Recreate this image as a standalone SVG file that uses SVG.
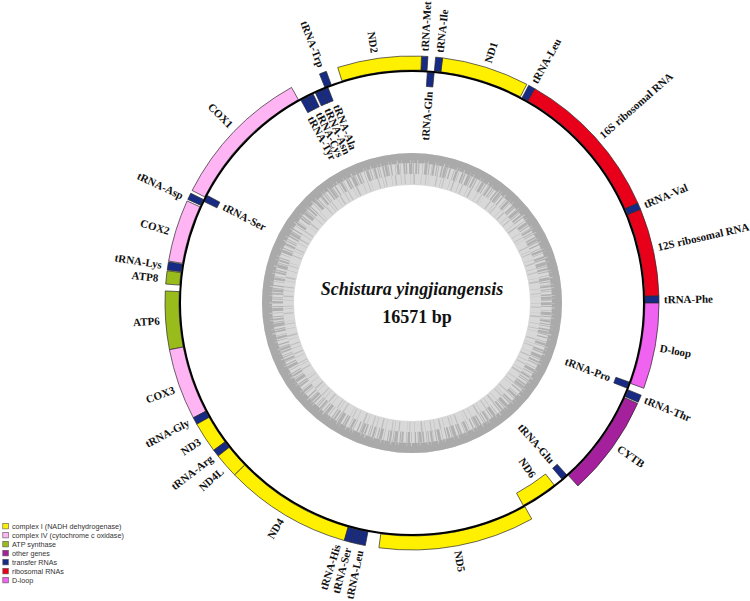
<svg xmlns="http://www.w3.org/2000/svg" width="750" height="601" viewBox="0 0 750 601">
<style>
.g{stroke:#2a2a2a;stroke-width:0.7}
.c1{fill:#fff000}.c4{fill:#ffb4f4}.atp{fill:#9abb1c}.oth{fill:#a4209c}.trna{fill:#172a84}.rrna{fill:#e8001a}.dl{fill:#f062f0}
.lb{font-family:"Liberation Serif","Times New Roman",serif;font-weight:bold;font-size:11px;fill:#111}
.ls{text-anchor:start}.le{text-anchor:end}
.lg{font-family:"Liberation Sans",Arial,sans-serif;font-size:7.2px;fill:#333}
.sq{stroke:#555;stroke-width:0.6}
</style>
<rect width="750" height="601" fill="#fff"/>
<g id="gc-ring" fill="none">
<circle cx="412" cy="303" r="134" stroke="#d8d8d8" stroke-width="32"/>
<circle cx="412" cy="303" r="145" stroke="#aaaaaa" stroke-width="10"/>
<circle cx="412" cy="303" r="134.5" stroke="#b0b0b0" stroke-width="11" stroke-dasharray="2 1 1 3 0.5 1.5 3 1 1 2 0.5 0.5 2 1.5 1 1 0.7 2.2 1.6 0.8 2.6 0.4 0.9 1.7 1.3 3.1 0.6 1.1 2.4 0.9 0.5 2.8 1.8 0.6 1.2 1.9 3.4 0.7 0.8 1.4"/>
<circle cx="412" cy="303" r="124" stroke="#bdbdbd" stroke-width="10" stroke-dasharray="0.6 3 1 5 0.4 2.5 1.5 6 0.5 4 0.8 2.2 0.3 7 1.1 3.6 0.5 1.9 0.9 5.5 0.4 2.9 1.3 4.4"/>
<circle cx="412" cy="303" r="141" stroke="#c9c9c9" stroke-width="4" stroke-dasharray="0.5 4 1 6 0.4 3 0.8 7 0.6 2.5 0.3 5.2 1.2 3.7 0.5 8 0.7 2.1"/>
</g>
<g id="genes">
<g id="trnF"><path class="g trna" d="M659,303 A247,247 0 0 0 658.89,295.67 L644.90,296.09 A233,233 0 0 1 645,303 Z"/><text class="lb ls" transform="translate(663.98,299.48) rotate(-0.8)" dy="0.35em">tRNA-Phe</text></g>
<g id="rrnS"><path class="g rrna" d="M658.89,295.67 A247,247 0 0 0 640.53,209.27 L627.57,214.59 A233,233 0 0 1 644.90,296.09 Z"/><text class="lb ls" transform="translate(657.74,247.17) rotate(-12.8)" dy="0.35em">12S ribosomal RNA</text></g>
<g id="trnV"><path class="g trna" d="M640.53,209.27 A247,247 0 0 0 637.82,202.93 L625.02,208.60 A233,233 0 0 1 627.57,214.59 Z"/><text class="lb ls" transform="translate(644.14,204.94) rotate(-22.9)" dy="0.35em">tRNA-Val</text></g>
<g id="rrnL"><path class="g rrna" d="M637.82,202.93 A247,247 0 0 0 534.75,88.66 L527.79,100.81 A233,233 0 0 1 625.02,208.60 Z"/><text class="lb ls" transform="translate(601.03,136.35) rotate(-41.4)" dy="0.35em">16S ribosomal RNA</text></g>
<g id="trnL1"><path class="g trna" d="M534.75,88.66 A247,247 0 0 0 528.72,85.32 L522.10,97.66 A233,233 0 0 1 527.79,100.81 Z"/><text class="lb ls" transform="translate(534.17,82.60) rotate(-61)" dy="0.35em">tRNA-Leu</text></g>
<g id="nad1"><path class="g c1" d="M526.82,84.31 A247,247 0 0 0 442.53,57.89 L440.80,71.79 A233,233 0 0 1 520.31,96.70 Z"/><text class="lb ls" transform="translate(487.78,62.66) rotate(-72.5)" dy="0.35em">ND1</text></g>
<g id="trnI"><path class="g trna" d="M442.53,57.89 A247,247 0 0 0 435.67,57.14 L434.33,71.07 A233,233 0 0 1 440.80,71.79 Z"/><text class="lb ls" transform="translate(439.65,52.52) rotate(-83.7)" dy="0.35em">tRNA-Ile</text></g>
<g id="trnQ"><path class="g trna" d="M434.14,73.06 A231,231 0 0 0 427.31,72.51 L426.38,86.48 A217,217 0 0 1 432.80,87.00 Z"/><text class="lb le" transform="translate(429.00,91.68) rotate(-85.4)" dy="0.35em">tRNA-Gln</text></g>
<g id="trnM"><path class="g trna" d="M427.94,56.51 A247,247 0 0 0 421.48,56.18 L420.94,70.17 A233,233 0 0 1 427.04,70.48 Z"/><text class="lb ls" transform="translate(424.75,51.32) rotate(-87.1)" dy="0.35em">tRNA-Met</text></g>
<g id="nad2"><path class="g c1" d="M421.48,56.18 A247,247 0 0 0 337.72,67.43 L341.93,80.78 A233,233 0 0 1 420.94,70.17 Z"/><text class="lb le" transform="translate(374.60,52.78) rotate(81.5)" dy="0.35em">ND2</text></g>
<g id="trnW"><path class="g trna" d="M326.31,71.34 A247,247 0 0 0 319.47,73.99 L324.72,86.97 A233,233 0 0 1 331.16,84.47 Z"/><text class="lb le" transform="translate(321.33,66.80) rotate(69)" dy="0.35em">tRNA-Trp</text></g>
<g id="trnA"><path class="g trna" d="M328.09,87.78 A231,231 0 0 0 321.74,90.36 L327.21,103.25 A217,217 0 0 1 333.17,100.82 Z"/><text class="lb ls" transform="translate(336.72,104.82) rotate(69.2)" dy="0.35em">tRNA-Ala</text></g>
<g id="trnN"><path class="g trna" d="M321.74,90.36 A231,231 0 0 0 315.47,93.14 L321.32,105.86 A217,217 0 0 1 327.21,103.25 Z"/><text class="lb ls" transform="translate(327.80,108.44) rotate(66.6)" dy="0.35em">tRNA-Asn</text></g>
<g id="trnC"><path class="g trna" d="M313.28,94.16 A231,231 0 0 0 307.13,97.18 L313.48,109.65 A217,217 0 0 1 319.26,106.81 Z"/><text class="lb ls" transform="translate(319.07,112.46) rotate(64)" dy="0.35em">tRNA-Cys</text></g>
<g id="trnY"><path class="g trna" d="M307.13,97.18 A231,231 0 0 0 301.07,100.38 L307.79,112.66 A217,217 0 0 1 313.48,109.65 Z"/><text class="lb ls" transform="translate(310.52,116.87) rotate(61.4)" dy="0.35em">tRNA-Tyr</text></g>
<g id="cox1"><path class="g c4" d="M291.50,87.39 A247,247 0 0 0 192.12,190.48 L204.58,196.86 A233,233 0 0 1 298.33,99.61 Z"/><text class="lb le" transform="translate(231.24,125.99) rotate(44.4)" dy="0.35em">COX1</text></g>
<g id="trnS2"><path class="g trna" d="M207.47,195.62 A231,231 0 0 0 204.38,201.74 L216.96,207.87 A217,217 0 0 1 219.87,202.13 Z"/><text class="lb ls" transform="translate(223.44,206.10) rotate(27.2)" dy="0.35em">tRNA-Ser</text></g>
<g id="trnD"><path class="g trna" d="M190.76,193.17 A247,247 0 0 0 187.78,199.40 L200.49,205.27 A233,233 0 0 1 203.30,199.40 Z"/><text class="lb le" transform="translate(182.70,196.08) rotate(25)" dy="0.35em">tRNA-Asp</text></g>
<g id="cox2"><path class="g c4" d="M187.06,200.96 A247,247 0 0 0 168.60,260.96 L182.40,263.34 A233,233 0 0 1 199.81,206.75 Z"/><text class="lb le" transform="translate(169.42,231.14) rotate(16.5)" dy="0.35em">COX2</text></g>
<g id="trnK"><path class="g trna" d="M168.46,261.81 A247,247 0 0 0 167.23,269.90 L181.10,271.78 A233,233 0 0 1 182.26,264.14 Z"/><text class="lb le" transform="translate(161.91,264.73) rotate(8.7)" dy="0.35em">tRNA-Lys</text></g>
<g id="atp8"><path class="g atp" d="M167.11,270.76 A247,247 0 0 0 165.73,284.05 L179.69,285.12 A233,233 0 0 1 180.99,272.59 Z"/><text class="lb le" transform="translate(158.25,277.87) rotate(5.7)" dy="0.35em">ATP8</text></g>
<g id="atp6"><path class="g atp" d="M165.29,290.93 A247,247 0 0 0 169.46,349.71 L183.20,347.06 A233,233 0 0 1 179.28,291.62 Z"/><text class="lb le" transform="translate(159.62,320.65) rotate(-4)" dy="0.35em">ATP6</text></g>
<g id="cox3"><path class="g c4" d="M169.46,349.71 A247,247 0 0 0 193.31,417.82 L205.70,411.31 A233,233 0 0 1 183.20,347.06 Z"/><text class="lb le" transform="translate(174.26,389.53) rotate(-20)" dy="0.35em">COX3</text></g>
<g id="trnG"><path class="g trna" d="M193.31,417.82 A247,247 0 0 0 196.81,424.25 L209.01,417.38 A233,233 0 0 1 205.70,411.31 Z"/><text class="lb le" transform="translate(188.61,421.78) rotate(-28)" dy="0.35em">tRNA-Gly</text></g>
<g id="nad3"><path class="g c1" d="M196.81,424.25 A247,247 0 0 0 213.70,450.27 L224.94,441.92 A233,233 0 0 1 209.01,417.38 Z"/><text class="lb le" transform="translate(199.82,440.79) rotate(-33)" dy="0.35em">ND3</text></g>
<g id="trnR"><path class="g trna" d="M213.70,450.27 A247,247 0 0 0 218.16,456.09 L229.15,447.41 A233,233 0 0 1 224.94,441.92 Z"/><text class="lb le" transform="translate(211.55,457.37) rotate(-37.6)" dy="0.35em">tRNA-Arg</text></g>
<g id="nad4l"><path class="g c1" d="M218.16,456.09 A247,247 0 0 0 234.62,474.89 L244.68,465.15 A233,233 0 0 1 229.15,447.41 Z"/><text class="lb le" transform="translate(221.93,469.98) rotate(-41.3)" dy="0.35em">ND4L</text></g>
<g id="nad4"><path class="g c1" d="M234.62,474.89 A247,247 0 0 0 344.33,540.55 L348.17,527.09 A233,233 0 0 1 244.68,465.15 Z"/><text class="lb le" transform="translate(280.94,519.41) rotate(-58.8)" dy="0.35em">ND4</text></g>
<g id="trnH"><path class="g trna" d="M344.33,540.55 A247,247 0 0 0 351.41,542.45 L354.84,528.88 A233,233 0 0 1 348.17,527.09 Z"/><text class="lb le" transform="translate(337.19,544.68) rotate(-72.8)" dy="0.35em">tRNA-His</text></g>
<g id="trnS1"><path class="g trna" d="M351.41,542.45 A247,247 0 0 0 358.12,544.05 L361.17,530.39 A233,233 0 0 1 354.84,528.88 Z"/><text class="lb le" transform="translate(347.80,547.72) rotate(-75.3)" dy="0.35em">tRNA-Ser</text></g>
<g id="trnL2"><path class="g trna" d="M358.12,544.05 A247,247 0 0 0 365.29,545.54 L367.94,531.80 A233,233 0 0 1 361.17,530.39 Z"/><text class="lb le" transform="translate(359.60,550.40) rotate(-78.3)" dy="0.35em">tRNA-Leu</text></g>
<g id="nad5"><path class="g c1" d="M378.90,547.77 A247,247 0 0 0 531.75,519.03 L524.96,506.79 A233,233 0 0 1 380.78,533.90 Z"/><text class="lb ls" transform="translate(457.92,550.78) rotate(79.5)" dy="0.35em">ND5</text></g>
<g id="nad6"><path class="g c1" d="M523.28,505.43 A231,231 0 0 0 554.22,485.03 L545.60,474.00 A217,217 0 0 1 516.54,493.16 Z"/><text class="lb le" transform="translate(533.60,476.66) rotate(55)" dy="0.35em">ND6</text></g>
<g id="trnE"><path class="g trna" d="M561.72,478.92 A231,231 0 0 0 566.57,474.67 L557.20,464.26 A217,217 0 0 1 552.64,468.25 Z"/><text class="lb le" transform="translate(552.48,461.78) rotate(48.5)" dy="0.35em">tRNA-Glu</text></g>
<g id="cytb"><path class="g oth" d="M577.91,485.98 A247,247 0 0 0 637.65,403.46 L624.86,397.77 A233,233 0 0 1 568.51,475.61 Z"/><text class="lb ls" transform="translate(618.43,447.54) rotate(35)" dy="0.35em">CYTB</text></g>
<g id="trnT"><path class="g trna" d="M638.17,402.28 A247,247 0 0 0 641.18,395.14 L628.19,389.92 A233,233 0 0 1 625.35,396.65 Z"/><text class="lb ls" transform="translate(644.82,399.44) rotate(22.5)" dy="0.35em">tRNA-Thr</text></g>
<g id="trnP"><path class="g trna" d="M626.78,388.04 A231,231 0 0 0 629.07,382.01 L615.91,377.22 A217,217 0 0 1 613.76,382.88 Z"/><text class="lb le" transform="translate(610.31,377.94) rotate(20.7)" dy="0.35em">tRNA-Pro</text></g>
<g id="dloop"><path class="g dl" d="M643.81,388.29 A247,247 0 0 0 659,303 L645,303 A233,233 0 0 1 630.67,383.45 Z"/><text class="lb ls" transform="translate(659.94,348.06) rotate(10.3)" dy="0.35em">D-loop</text></g>
</g>
<circle id="genome-circle" cx="412" cy="303" r="232" fill="none" stroke="#000" stroke-width="2"/>
<g id="title" font-family="'Liberation Serif','Times New Roman',serif" font-weight="bold" font-size="18" text-anchor="middle" fill="#111">
<text x="412" y="295" font-style="italic">Schistura yingjiangensis</text>
<text x="417" y="323">16571 bp</text>
</g>
<g id="legend">
<rect class="sq c1" x="2.8" y="523.3" width="5.6" height="5.6"/><text class="lg" x="12" y="528.7">complex I (NADH dehydrogenase)</text>
<rect class="sq c4" x="2.8" y="532.3" width="5.6" height="5.6"/><text class="lg" x="12" y="537.7">complex IV (cytochrome c oxidase)</text>
<rect class="sq atp" x="2.8" y="541.3" width="5.6" height="5.6"/><text class="lg" x="12" y="546.7">ATP synthase</text>
<rect class="sq oth" x="2.8" y="550.3" width="5.6" height="5.6"/><text class="lg" x="12" y="555.7">other genes</text>
<rect class="sq trna" x="2.8" y="559.3" width="5.6" height="5.6"/><text class="lg" x="12" y="564.7">transfer RNAs</text>
<rect class="sq rrna" x="2.8" y="568.3" width="5.6" height="5.6"/><text class="lg" x="12" y="573.7">ribosomal RNAs</text>
<rect class="sq dl" x="2.8" y="577.3" width="5.6" height="5.6"/><text class="lg" x="12" y="582.7">D-loop</text>
</g>
</svg>
